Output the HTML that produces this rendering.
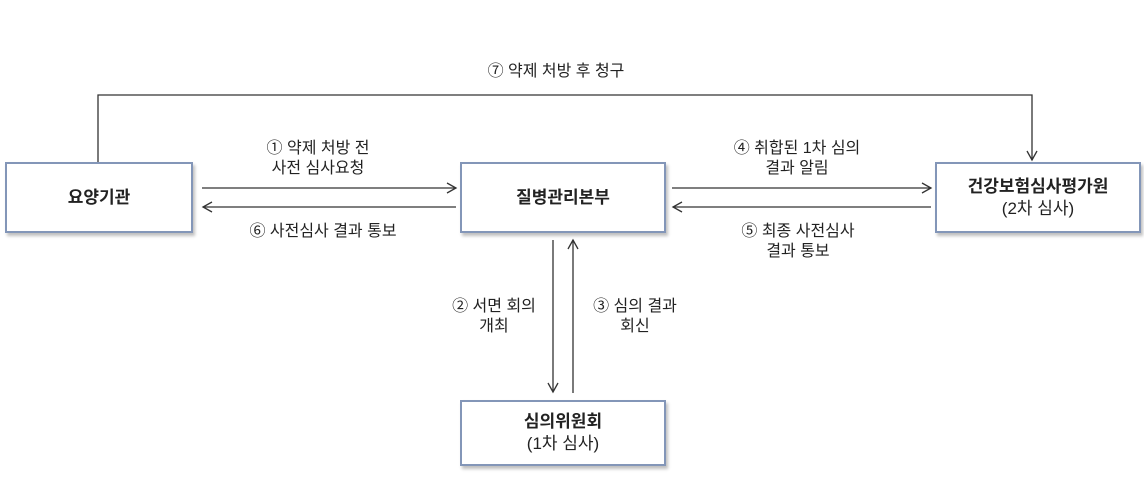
<!DOCTYPE html>
<html><head><meta charset="utf-8"><style>
body{margin:0;width:1144px;height:492px;background:#fff;position:relative;overflow:hidden;font-family:"Liberation Sans","Noto Sans CJK KR",sans-serif;color:#222}
.b{position:absolute;border:2px solid #8396b8;box-shadow:2px 3px 3px rgba(0,0,0,0.25);background:#fff;display:flex;flex-direction:column;align-items:center;justify-content:center;font-size:17px;line-height:22px;box-sizing:border-box}
.b b{font-weight:bold}
.t{position:absolute;font-size:16px;line-height:20px;text-align:center;white-space:nowrap;transform:translateX(-50%)}
</style></head><body>
<svg width="1144" height="492" style="position:absolute;left:0;top:0">
<defs><marker id="a" markerWidth="12" markerHeight="12" refX="10" refY="6" orient="auto" markerUnits="userSpaceOnUse"><path d="M1,1 L10,6 L1,11" fill="none" stroke="#333" stroke-width="1.3"/></marker></defs>
<g stroke="#333" stroke-width="1.3" fill="none">
<path d="M98,162 V95 H1032 V160" marker-end="url(#a)"/>
<line x1="202" y1="188" x2="456" y2="188" marker-end="url(#a)"/>
<line x1="456" y1="207" x2="203" y2="207" marker-end="url(#a)"/>
<line x1="672" y1="188" x2="931" y2="188" marker-end="url(#a)"/>
<line x1="931" y1="207" x2="673" y2="207" marker-end="url(#a)"/>
<line x1="553" y1="240" x2="553" y2="392" marker-end="url(#a)"/>
<line x1="573" y1="393" x2="573" y2="240" marker-end="url(#a)"/>
</g></svg>
<div class="b" style="left:5px;top:162px;width:188px;height:71px"><b>요양기관</b></div>
<div class="b" style="left:460px;top:162px;width:206px;height:71px"><b>질병관리본부</b></div>
<div class="b" style="left:935px;top:162px;width:206px;height:71px"><b>건강보험심사평가원</b><span>(2차 심사)</span></div>
<div class="b" style="left:460px;top:400px;width:206px;height:66px"><b>심의위원회</b><span>(1차 심사)</span></div>
<div class="t" style="left:556px;top:62px">⑦ 약제 처방 후 청구</div>
<div class="t" style="left:318px;top:139px">① 약제 처방 전<br>사전 심사요청</div>
<div class="t" style="left:323px;top:222px">⑥ 사전심사 결과 통보</div>
<div class="t" style="left:797px;top:139px">④ 취합된 1차 심의<br>결과 알림</div>
<div class="t" style="left:798px;top:222px">⑤ 최종 사전심사<br>결과 통보</div>
<div class="t" style="left:494px;top:297px">② 서면 회의<br>개최</div>
<div class="t" style="left:635px;top:297px">③ 심의 결과<br>회신</div>
</body></html>
